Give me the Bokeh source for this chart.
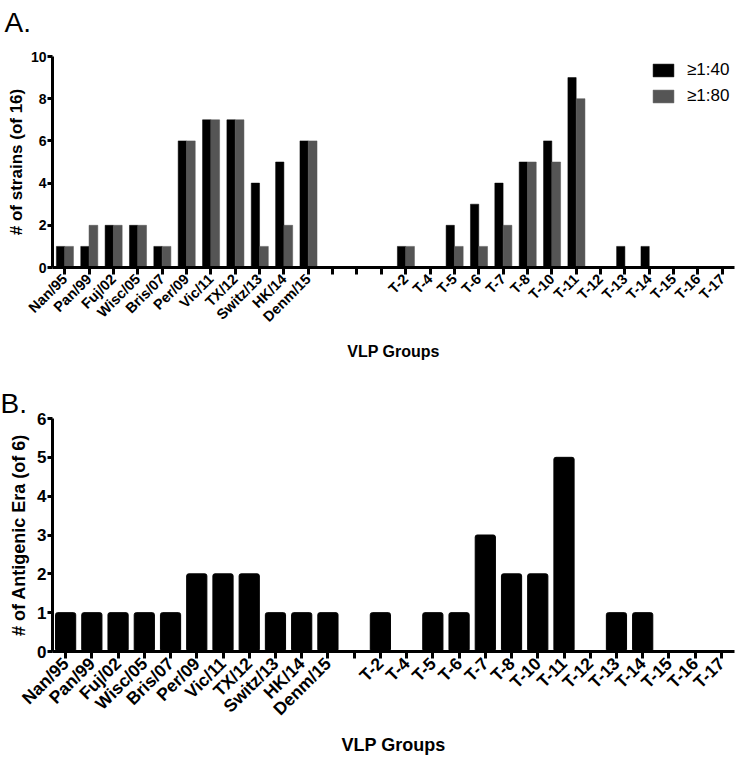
import math
from bokeh.plotting import figure
from bokeh.models import (FactorRange, Range1d, Legend, LegendItem,
                          ColumnDataSource, FixedTicker, Title)
from bokeh.transform import dodge
from bokeh.layouts import column
from bokeh.embed import file_html
from bokeh.resources import INLINE

# ---------------- data ----------------
strains = ["Nan/95", "Pan/99", "Fuj/02", "Wisc/05", "Bris/07", "Per/09",
           "Vic/11", "TX/12", "Switz/13", "HK/14", "Denm/15"]
t_groups = ["T-2", "T-4", "T-5", "T-6", "T-7", "T-8", "T-10", "T-11",
            "T-12", "T-13", "T-14", "T-15", "T-16", "T-17"]
gaps_a = [" ", "  ", "   "]
gaps_b = [" "]

a_140_strains = [1, 1, 2, 2, 1, 6, 7, 7, 4, 5, 6]
a_140_t = [1, 0, 2, 3, 4, 5, 6, 9, 0, 1, 1, 0, 0, 0]
a_180_strains = [1, 2, 2, 2, 1, 6, 7, 7, 1, 2, 6]
a_180_t = [1, 0, 1, 1, 2, 5, 5, 8, 0, 0, 0, 0, 0, 0]

b_strains = [1, 1, 1, 1, 1, 2, 2, 2, 1, 1, 1]
b_t = [1, 0, 1, 1, 3, 2, 2, 5, 0, 1, 1, 0, 0, 0]

legend_labels = ["\u22651:40", "\u22651:80"]
a_yticks = [0, 2, 4, 6, 8, 10]
b_yticks = [0, 1, 2, 3, 4, 5, 6]

FONT = "Liberation Sans"
BLACK = "#000000"
GRAY = "#555555"


def style(p, ytick_px, xtick_px, ylab_px, xlab_px, ylab_standoff, xlab_standoff):
    p.xgrid.visible = False
    p.ygrid.visible = False
    p.outline_line_color = None
    for ax in (p.xaxis[0], p.yaxis[0]):
        ax.axis_line_width = 3
        ax.axis_line_color = BLACK
        ax.major_tick_line_width = 3
        ax.major_tick_line_color = BLACK
        ax.minor_tick_line_color = None
        ax.major_tick_in = 0
        ax.major_label_text_font = FONT
        ax.major_label_text_font_style = "bold"
        ax.major_label_text_color = BLACK
        ax.axis_label_text_font = FONT
        ax.axis_label_text_font_style = "bold"
        ax.axis_label_text_color = BLACK
    p.yaxis.major_tick_out = 5
    p.yaxis.major_label_standoff = 1
    p.yaxis.major_label_text_font_size = ytick_px
    p.yaxis.axis_label_text_font_size = ylab_px
    p.yaxis.axis_label_standoff = ylab_standoff
    p.xaxis.major_tick_out = 7
    p.xaxis.major_label_standoff = 2
    p.xaxis.major_label_orientation = math.pi / 4
    p.xaxis.major_label_text_font_size = xtick_px
    p.xaxis.axis_label_text_font_size = xlab_px
    p.xaxis.axis_label_standoff = xlab_standoff


def panel_title(text, offset):
    return Title(text=text, text_font=FONT, text_font_style="normal",
                 text_font_size="28px", text_color=BLACK, align="left",
                 offset=offset, standoff=0)


# ---------------- panel A ----------------
cats_a = strains + gaps_a + t_groups
src_a = ColumnDataSource(dict(
    cat=strains + t_groups,
    v40=a_140_strains + a_140_t,
    v80=a_180_strains + a_180_t,
))

pA = figure(width=750, height=370, output_backend="svg", toolbar_location=None,
            x_range=FactorRange(factors=cats_a, range_padding=0),
            y_range=Range1d(0, 10),
            min_border_left=50, min_border_right=0,
            min_border_top=56, min_border_bottom=103,
            x_axis_label="VLP Groups", y_axis_label="# of strains (of 16)")
r40 = pA.vbar(x=dodge("cat", -0.17, range=pA.x_range), top="v40", width=0.34,
              bottom=0, source=src_a, fill_color=BLACK, line_color=BLACK, line_width=0.5)
r80 = pA.vbar(x=dodge("cat", 0.18, range=pA.x_range), top="v80", width=0.36,
              bottom=0, source=src_a, fill_color=GRAY, line_color=GRAY, line_width=0.5)
style(pA, "14px", "14.5px", "17px", "16px", 2, 9)
pA.yaxis.ticker = FixedTicker(ticks=a_yticks)
# spacer between frame and the panel letter, then the panel letter itself
pA.add_layout(Title(text=" ", text_font=FONT, text_font_size="16px",
                    standoff=0), "above")
pA.add_layout(panel_title("A.", -48), "above")

legend = Legend(items=[LegendItem(label=legend_labels[0], renderers=[r40]),
                       LegendItem(label=legend_labels[1], renderers=[r80])],
                location=(598, 161), orientation="vertical",
                glyph_width=26, glyph_height=16, label_standoff=11,
                spacing=6, padding=0, margin=0,
                border_line_color=None, background_fill_alpha=0,
                label_text_font=FONT, label_text_font_size="17px",
                label_text_color=BLACK)
pA.add_layout(legend)

# ---------------- panel B ----------------
cats_b = strains + gaps_b + t_groups
src_b = ColumnDataSource(dict(cat=strains + t_groups, v=b_strains + b_t))

pB = figure(width=750, height=388, output_backend="svg", toolbar_location=None,
            x_range=FactorRange(factors=cats_b, range_padding=0),
            y_range=Range1d(0, 6),
            min_border_left=52, min_border_right=16,
            min_border_top=48, min_border_bottom=105,
            x_axis_label="VLP Groups", y_axis_label="# of Antigenic Era (of 6)")
pB.vbar(x="cat", top="v", width=0.77, bottom=0, source=src_b,
        fill_color=BLACK, line_color=BLACK, line_width=1, border_radius=2)
style(pB, "17px", "17.5px", "18px", "18px", 5, 6)
pB.yaxis.ticker = FixedTicker(ticks=b_yticks)
pB.add_layout(panel_title("B.", -52), "above")

layout = column(pA, pB, spacing=0)
open("out.html", "w").write(file_html(layout, INLINE))
